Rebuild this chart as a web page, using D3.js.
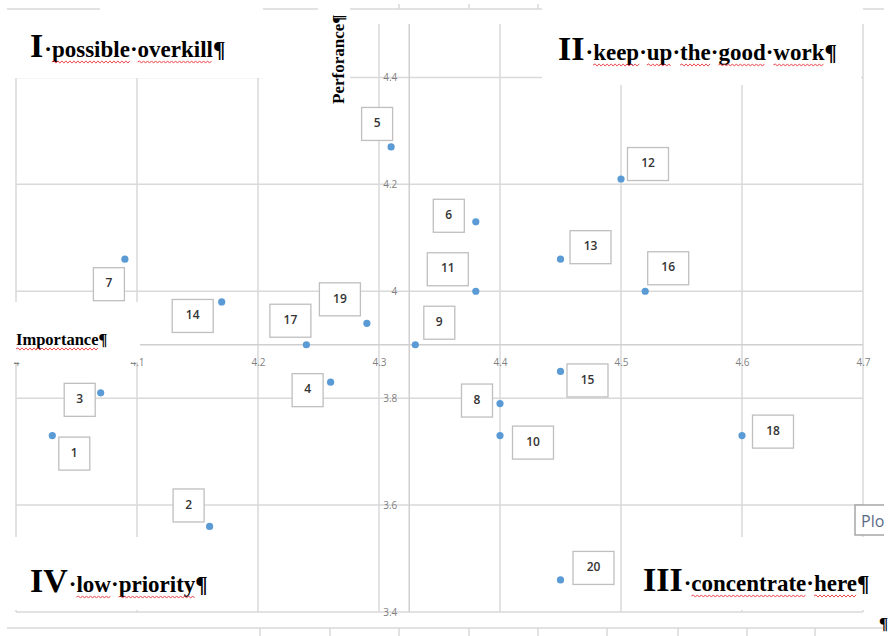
<!DOCTYPE html>
<html>
<head>
<meta charset="utf-8">
<script src="https://cdn.jsdelivr.net/npm/d3@7"></script>
<style>
  body { margin: 0; background: #fff; }
  svg { display: block; }
</style>
</head>
<body>
<svg id="chart" width="896" height="636"></svg>
<script>
// item numbers and their scores
const items = [1, 2, 3, 4, 5, 6, 7, 8, 9, 10, 11, 12, 13, 14, 15, 16, 17, 18, 19, 20];
const importance = [4.03, 4.16, 4.07, 4.26, 4.31, 4.38, 4.09, 4.40, 4.33, 4.40,
                    4.38, 4.50, 4.45, 4.17, 4.45, 4.52, 4.24, 4.60, 4.29, 4.45];
const perfScore  = [3.73, 3.56, 3.81, 3.83, 4.27, 4.13, 4.06, 3.79, 3.90, 3.73,
                    4.00, 4.21, 4.06, 3.98, 3.85, 4.00, 3.90, 3.73, 3.94, 3.46];
const xTicks = [4, 4.1, 4.2, 4.3, 4.4, 4.5, 4.6, 4.7];
const yTicks = [3.4, 3.6, 3.8, 4, 4.2, 4.4];

// where each data label box sits relative to its point (px)
const labelDx = [22, -21, -21, -23, -14, -27, -16, -23, 24, 33, -28, 27, 30, -29, 27, 23, -16, 31, -27, 33];
const labelDy = [18, -21, 7, 8, -23, -6, 25, -3, -22, 7, -22, -15, -12, 14, 9, -23, -24, -4, -24, -12];

const data = items.map((id, i) => ({ id, imp: importance[i], perf: perfScore[i], dx: labelDx[i], dy: labelDy[i] }));

const svg = d3.select("#chart");
const x = d3.scaleLinear().domain([4, 4.7]).range([16, 863]);
const y = d3.scaleLinear().domain([3.4, 4.5]).range([612, 24]);
const xCross = 4.325, yCross = 3.9;
const grid = "#d9d9d9";

// gridlines
svg.append("g").selectAll("line").data(xTicks).join("line")
  .attr("x1", d => x(d)).attr("x2", d => x(d))
  .attr("y1", y(4.5)).attr("y2", y(3.4))
  .attr("stroke", grid).attr("stroke-width", 1.5);
svg.append("g").selectAll("line").data(yTicks).join("line")
  .attr("x1", x(4)).attr("x2", x(4.7))
  .attr("y1", d => y(d)).attr("y2", d => y(d))
  .attr("stroke", grid).attr("stroke-width", 1.5);

// axis lines crossing in the middle
svg.append("line")
  .attr("x1", x(xCross)).attr("x2", x(xCross)).attr("y1", y(4.5)).attr("y2", y(3.4))
  .attr("stroke", "#cfcfcf").attr("stroke-width", 1.5);
svg.append("line")
  .attr("x1", x(4)).attr("x2", x(4.7)).attr("y1", y(yCross)).attr("y2", y(yCross))
  .attr("stroke", "#cfcfcf").attr("stroke-width", 1.5);

const fmt = d3.format("~g");
const xAxis = svg.append("g")
  .attr("transform", `translate(0,${y(yCross)})`)
  .call(d3.axisBottom(x).tickValues(xTicks).tickSize(0).tickPadding(14).tickFormat(fmt));
const yAxis = svg.append("g")
  .attr("transform", `translate(${x(xCross)},0)`)
  .call(d3.axisLeft(y).tickValues(yTicks).tickSize(0).tickPadding(12).tickFormat(fmt));
[xAxis, yAxis].forEach(a => {
  a.select(".domain").remove();
  a.selectAll("text").attr("fill", "#7f7f7f").attr("font-size", 10)
    .attr("font-family", "'Open Sans', sans-serif");
});

// points
svg.append("g").selectAll("circle").data(data).join("circle")
  .attr("cx", d => x(d.imp)).attr("cy", d => y(d.perf)).attr("r", 3.6)
  .attr("fill", "#5b9bd5");

// data labels
const lab = svg.append("g").selectAll("g").data(data).join("g")
  .attr("transform", d => `translate(${x(d.imp) + d.dx},${y(d.perf) + d.dy})`);
lab.append("rect")
  .attr("x", d => d.id > 9 ? -20.5 : -15.5).attr("y", -16.5)
  .attr("width", d => d.id > 9 ? 41 : 31).attr("height", 33)
  .attr("fill", "#fff").attr("stroke", "#bfbfbf").attr("stroke-width", 1.3);
lab.append("text")
  .attr("text-anchor", "middle").attr("dy", "0.35em").attr("y", -1)
  .attr("font-family", "'Open Sans', sans-serif").attr("font-size", 12).attr("font-weight", 600)
  .attr("fill", "#333").text(d => d.id);

// white text boxes of the document over the chart
const boxes = [
  [0, 12, 263, 66], [263, 12, 87, 96], [542, 4, 319, 81],
  [0, 302, 140, 60], [0, 537, 255, 73], [626, 537, 250, 73]
];
svg.append("g").selectAll("rect").data(boxes).join("rect")
  .attr("x", d => d[0]).attr("y", d => d[1]).attr("width", d => d[2]).attr("height", d => d[3])
  .attr("fill", "#fff");

const serif = "'Liberation Serif', 'Times New Roman', serif";
const txt = svg.append("g").attr("font-family", serif).attr("font-weight", "bold").attr("fill", "#000");

function squiggle(sel, yy) {
  const node = sel.node();
  const str = node.textContent;
  const re = /[A-Za-z]+/g;
  let m;
  while ((m = re.exec(str))) {
    const x1 = node.getStartPositionOfChar(m.index).x;
    const x2 = node.getEndPositionOfChar(m.index + m[0].length - 1).x;
    let p = `M${x1},${yy}`, up = true;
    for (let xx = x1 + 2; xx <= x2; xx += 2) {
      p += `L${xx},${yy + (up ? -1.1 : 1.1)}`;
      up = !up;
    }
    svg.append("path").attr("d", p).attr("fill", "none")
      .attr("stroke", "#e8363b").attr("stroke-width", 0.9);
  }
}

function quadLabel(numeral, rest, x0, base) {
  const big = txt.append("text").attr("x", x0).attr("y", base).attr("font-size", 34).text(numeral);
  const w = big.node().getComputedTextLength();
  const small = txt.append("text").attr("x", x0 + w + 1).attr("y", base).attr("font-size", 23).text(rest);
  squiggle(small, base + 5);
}
quadLabel("I", "\u00b7possible\u00b7overkill\u00b6", 30, 57);
quadLabel("II", "\u00b7keep\u00b7up\u00b7the\u00b7good\u00b7work\u00b6", 558, 60);
quadLabel("IV", "\u00b7low\u00b7priority\u00b6", 30, 592);
quadLabel("III", "\u00b7concentrate\u00b7here\u00b6", 643, 591);

const impLabel = txt.append("text").attr("x", 16).attr("y", 345).attr("font-size", 16.5)
  .text("Importance\u00b6");
squiggle(impLabel, 349);
txt.append("text").attr("transform", "translate(344,104) rotate(-90)")
  .attr("font-size", 17).text("Perforance\u00b6");

// page lines of the document
const page = svg.append("g").attr("stroke", grid).attr("stroke-width", 1.5);
[[7, 100], [263, 318], [350, 542], [863, 884]].forEach(s =>
  page.append("line").attr("x1", s[0]).attr("x2", s[1]).attr("y1", 9).attr("y2", 9));
[399, 469, 538].forEach(t =>
  page.append("line").attr("x1", t).attr("x2", t).attr("y1", 4).attr("y2", 9));
page.append("line").attr("x1", 7).attr("x2", 884).attr("y1", 628).attr("y2", 628);
[260, 330, 399, 469, 538, 607, 678, 747, 815].forEach(t =>
  page.append("line").attr("x1", t).attr("x2", t).attr("y1", 628).attr("y2", 636));

// tooltip box cut at the right edge
svg.append("rect").attr("x", 855).attr("y", 505).attr("width", 50).attr("height", 30)
  .attr("fill", "#fff").attr("stroke", "#a6a6a6").attr("stroke-width", 1.5);
svg.append("text").attr("x", 861).attr("y", 527).attr("font-size", 16)
  .attr("font-family", "'Open Sans', sans-serif").attr("fill", "#5a6a86").text("Plo");
svg.append("rect").attr("x", 884).attr("y", 0).attr("width", 12).attr("height", 636).attr("fill", "#fff");
svg.append("text").attr("x", 879).attr("y", 629).attr("font-size", 17)
  .attr("font-family", serif).attr("font-weight", "bold").text("\u00b6");
</script>
</body>
</html>
